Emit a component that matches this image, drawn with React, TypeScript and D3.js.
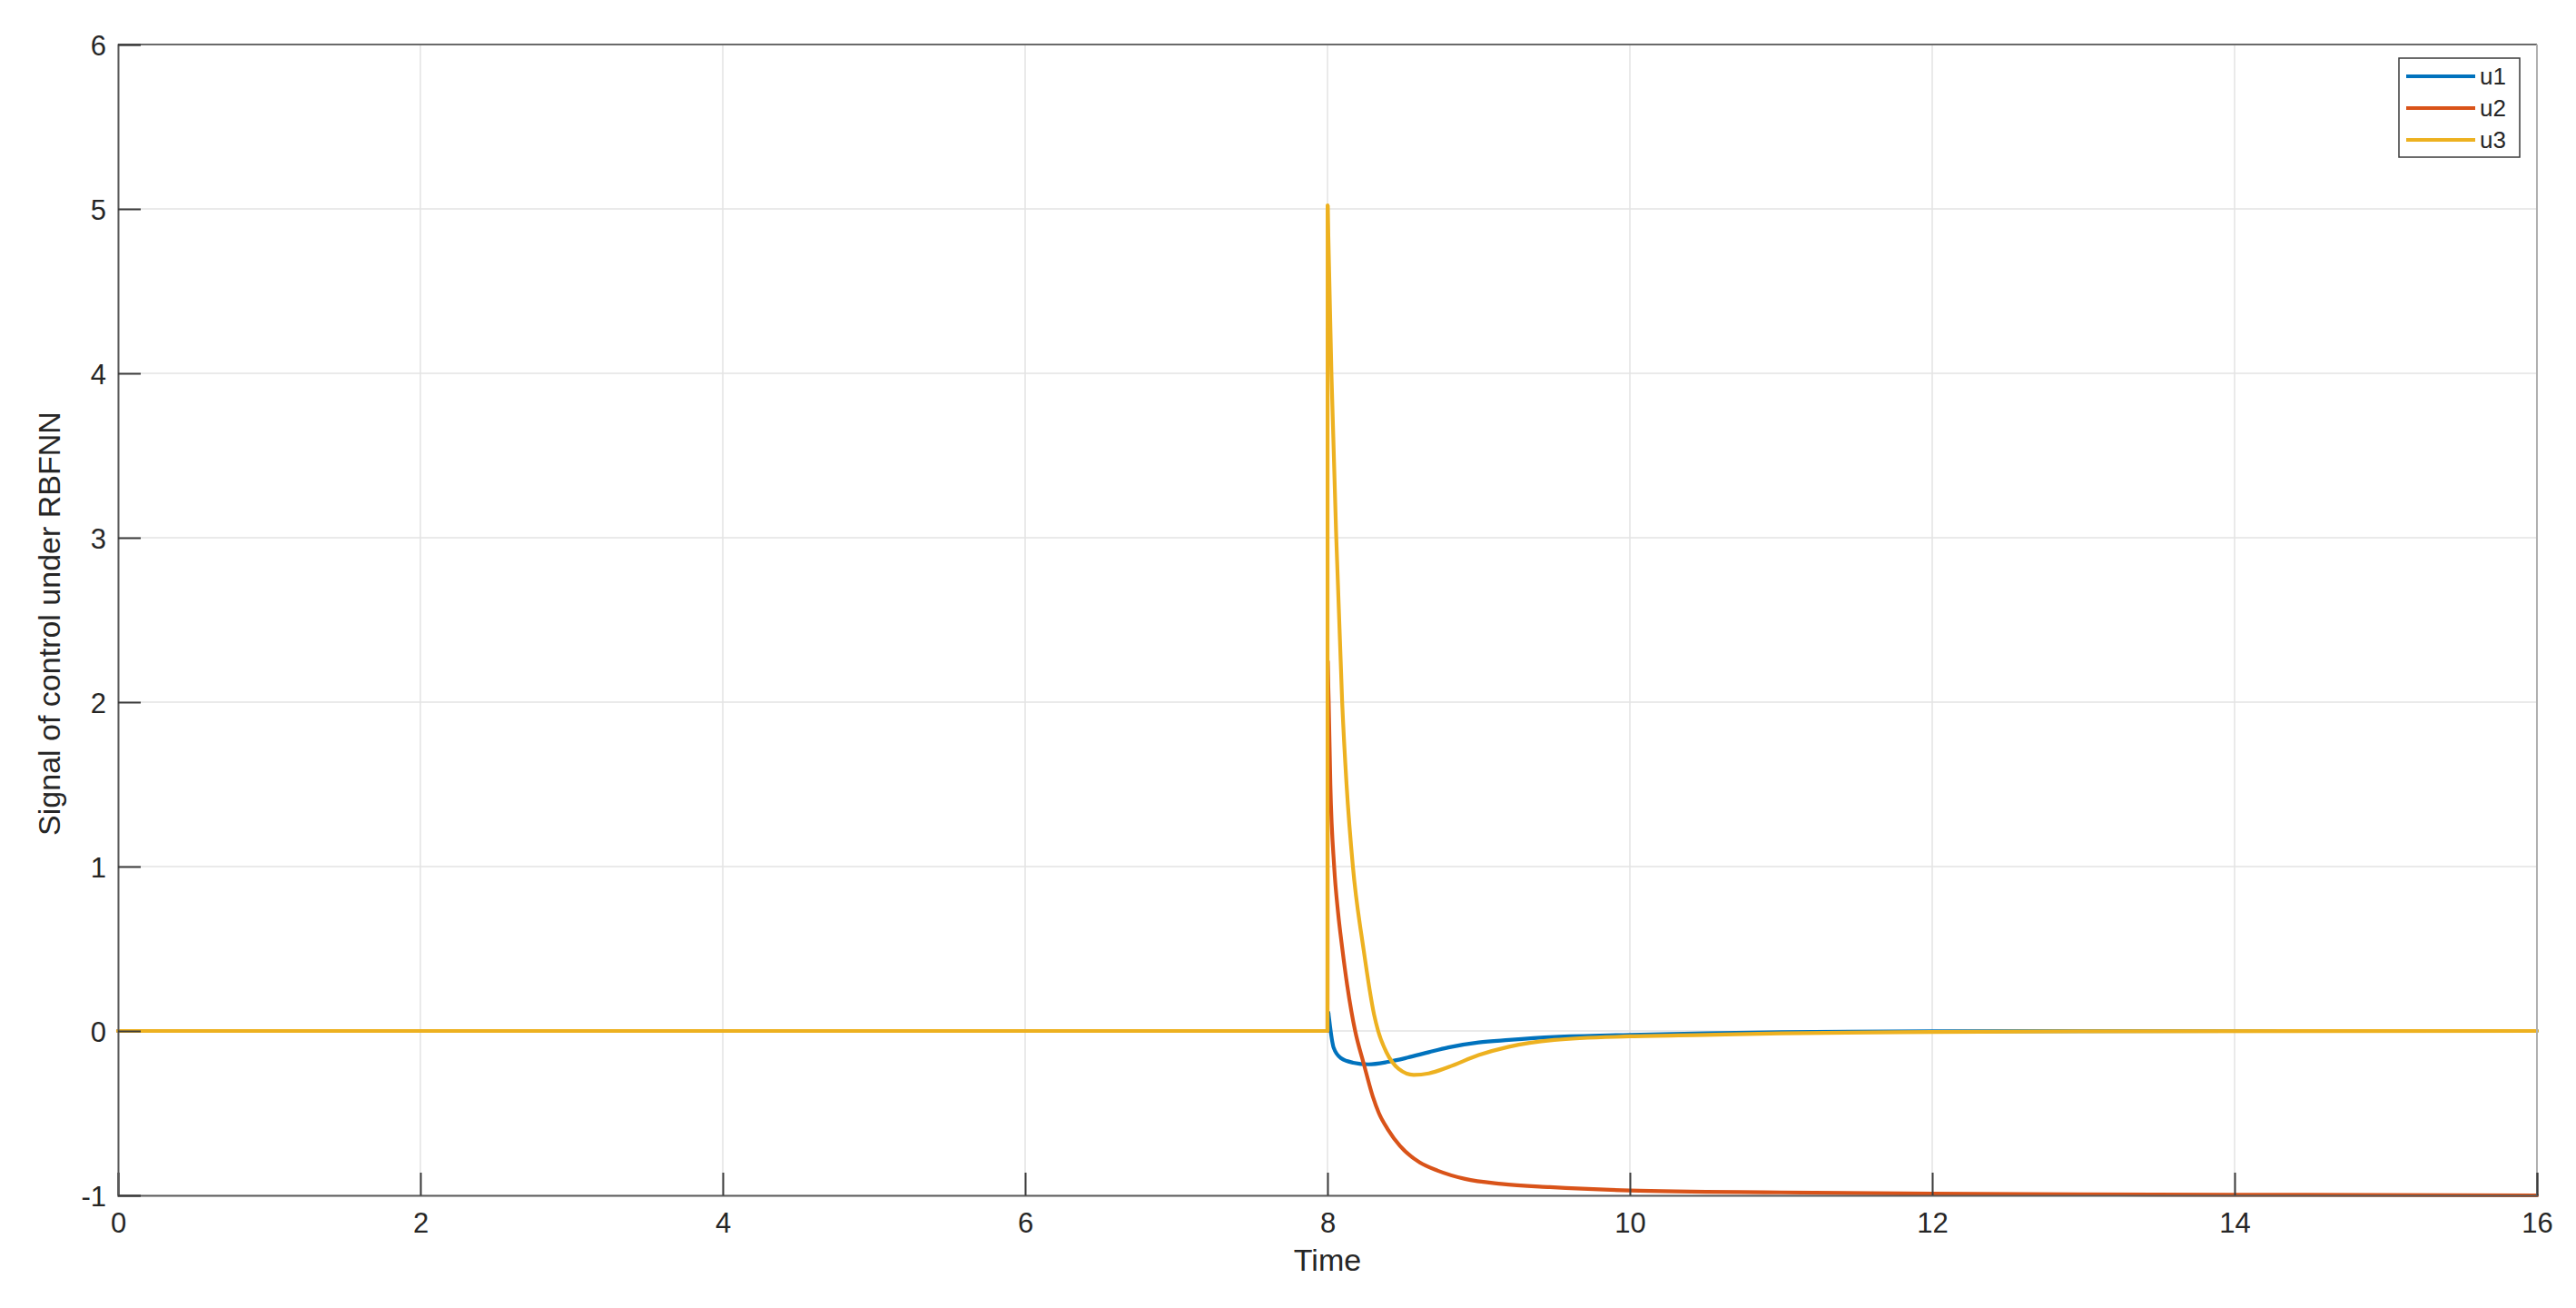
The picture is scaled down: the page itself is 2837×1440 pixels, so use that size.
import React, { useEffect, useRef } from "react";
import * as d3 from "d3";

// time samples and values (control signals u1..u3)
const t1 = [0, 8, 8.006, 8.04, 8.09, 8.17, 8.27, 8.4, 8.53, 8.67, 8.8, 9.0, 9.2, 9.5, 10, 10.5, 11, 12, 14, 16];
const u1 = [0, 0, 0.11, -0.1, -0.166, -0.193, -0.203, -0.188, -0.162, -0.129, -0.1, -0.07, -0.055, -0.037, -0.024, -0.014, -0.007, -0.002, 0, 0];

const t2 = [0, 8, 8.001, 8.008, 8.019, 8.044, 8.07, 8.098, 8.13, 8.158, 8.183, 8.24, 8.3, 8.34, 8.4, 8.48, 8.61, 8.73, 8.91, 9.15, 9.47, 10, 11, 12, 14, 16];
const u2 = [0, 0, 2.25, 2.0, 1.5, 1.0, 0.72, 0.5, 0.28, 0.12, 0, -0.2, -0.4, -0.5, -0.6, -0.7, -0.8, -0.85, -0.9, -0.93, -0.95, -0.97, -0.982, -0.99, -0.996, -1.0];

const t3 = [0, 8, 8.001, 8.026, 8.058, 8.097, 8.126, 8.168, 8.238, 8.308, 8.335, 8.39, 8.47, 8.57, 8.67, 8.8, 9.0, 9.2, 9.5, 10, 10.5, 11, 12, 13, 16];
const u3 = [0, 0, 5.02, 4, 3, 2, 1.5, 1, 0.5, 0.1, 0, -0.13, -0.23, -0.267, -0.258, -0.22, -0.147, -0.096, -0.055, -0.033, -0.024, -0.014, -0.006, -0.002, 0];

const seriesNames = ["u1", "u2", "u3"];
const seriesColors = ["#0072BD", "#D95319", "#EDB120"];
const xTicks = [0, 2, 4, 6, 8, 10, 12, 14, 16];
const yTicks = [-1, 0, 1, 2, 3, 4, 5, 6];

const W = 2837;
const H = 1440;
const FONT = "'Liberation Sans', Arial, Helvetica, sans-serif";

export default function App() {
  const ref = useRef<SVGSVGElement>(null);

  useEffect(() => {
    const svg = d3.select(ref.current);
    svg.selectAll("*").remove();

    const left = 130, right = 2794, top = 49, bottom = 1316;
    const x = d3.scaleLinear().domain([0, 16]).range([left, right]);
    const y = d3.scaleLinear().domain([-1, 6]).range([bottom, top]);

    svg.append("rect").attr("width", W).attr("height", H).attr("fill", "#fff");

    // grid
    const grid = svg.append("g").attr("stroke", "#e3e3e3").attr("stroke-width", 1.5);
    xTicks.forEach((v) => {
      grid.append("line").attr("x1", x(v)).attr("x2", x(v)).attr("y1", top).attr("y2", bottom);
    });
    yTicks.forEach((v) => {
      grid.append("line").attr("x1", left).attr("x2", right).attr("y1", y(v)).attr("y2", y(v));
    });

    // curves: flat part + step drawn straight, decay after the peak smoothed
    const straight = d3
      .line<[number, number]>()
      .x((d) => x(d[0]))
      .y((d) => y(d[1]));
    const smooth = d3
      .line<[number, number]>()
      .x((d) => x(d[0]))
      .y((d) => y(d[1]))
      .curve(d3.curveMonotoneX);

    const series = [
      t1.map((t, i) => [t, u1[i]] as [number, number]),
      t2.map((t, i) => [t, u2[i]] as [number, number]),
      t3.map((t, i) => [t, u3[i]] as [number, number]),
    ];
    const plot = svg.append("g");
    series.forEach((pts, i) => {
      const g = plot
        .append("g")
        .attr("fill", "none")
        .attr("stroke", seriesColors[i])
        .attr("stroke-width", 4.2)
        .attr("stroke-linejoin", "round")
        .attr("stroke-linecap", "round");
      g.append("path").attr("d", straight(pts.slice(0, 3)));
      g.append("path").attr("d", smooth(pts.slice(2)));
    });

    // box
    svg.append("line").attr("x1", left).attr("x2", right).attr("y1", top).attr("y2", top).attr("stroke", "#6a6a6a").attr("stroke-width", 2);
    svg.append("line").attr("x1", right).attr("x2", right).attr("y1", top).attr("y2", bottom).attr("stroke", "#b0b0b0").attr("stroke-width", 2);

    // axes with inward ticks
    const fmt = (d: d3.NumberValue) => String(d);
    const xAxis = svg
      .append("g")
      .attr("transform", `translate(0,${bottom})`)
      .call(d3.axisBottom(x).tickValues(xTicks).tickSize(-25).tickFormat(fmt));
    const yAxis = svg
      .append("g")
      .attr("transform", `translate(${left},0)`)
      .call(d3.axisLeft(y).tickValues(yTicks).tickSize(-25).tickFormat(fmt));

    [xAxis, yAxis].forEach((ax) => {
      ax.select(".domain").attr("stroke", "#5a5a5a").attr("stroke-width", 2);
      ax.selectAll(".tick line").attr("stroke", "#3a3a3a").attr("stroke-width", 2);
      ax.selectAll(".tick text")
        .attr("fill", "#262626")
        .style("font-family", FONT)
        .style("font-size", "31px");
    });
    yAxis.selectAll(".tick text").attr("x", -13).attr("dy", "0.36em");
    xAxis.selectAll(".tick text").attr("y", 19).attr("dy", "0.71em");

    // axis labels
    svg
      .append("text")
      .attr("x", x(8))
      .attr("y", 1399)
      .attr("text-anchor", "middle")
      .attr("fill", "#262626")
      .style("font-family", FONT)
      .style("font-size", "34px")
      .text("Time");

    svg
      .append("text")
      .attr("transform", `translate(66,${(top + bottom) / 2 + 4}) rotate(-90)`)
      .attr("text-anchor", "middle")
      .attr("fill", "#262626")
      .style("font-family", FONT)
      .style("font-size", "34px")
      .text("Signal of control under RBFNN");

    // legend
    const lg = svg.append("g");
    lg.append("rect")
      .attr("x", 2642)
      .attr("y", 64)
      .attr("width", 133)
      .attr("height", 109)
      .attr("fill", "#fff")
      .attr("stroke", "#3a3a3a")
      .attr("stroke-width", 1.5);
    seriesNames.forEach((name, i) => {
      const cy = 84 + i * 35;
      lg.append("line")
        .attr("x1", 2650)
        .attr("x2", 2726)
        .attr("y1", cy)
        .attr("y2", cy)
        .attr("stroke", seriesColors[i])
        .attr("stroke-width", 4);
      lg.append("text")
        .attr("x", 2731)
        .attr("y", cy)
        .attr("dy", "0.36em")
        .attr("fill", "#262626")
        .style("font-family", FONT)
        .style("font-size", "26px")
        .text(name);
    });
  }, []);

  return (
    <svg
      ref={ref}
      width={W}
      height={H}
      style={{ position: "absolute", left: 0, top: 0, display: "block" }}
    />
  );
}
